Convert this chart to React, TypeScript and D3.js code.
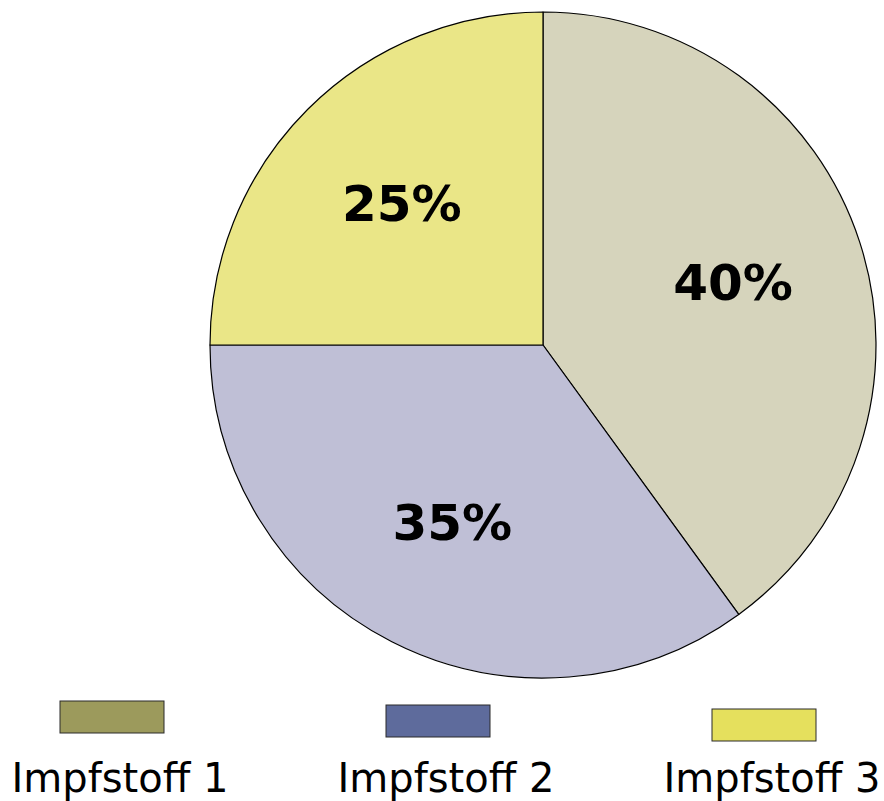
import * as d3 from "d3"

const labels = ["Impfstoff 1", "Impfstoff 2", "Impfstoff 3"]
const values = [40, 35, 25]
const sliceColors = ["#d6d4bc", "#bfbfd6", "#eae687"]
const legendColors = ["#9c9a5c", "#5e6b9c", "#e5e05d"]

const W = 884
const H = 801

export default function App() {
  const cx = 543
  const cy = 345
  const radius = 333

  const pie = d3
    .pie<number>()
    .sort(null)
    .value((d) => d)
  const arcs = pie(values)
  const arc = d3.arc<d3.PieArcDatum<number>>().innerRadius(0).outerRadius(radius)
  const labelArc = d3
    .arc<d3.PieArcDatum<number>>()
    .innerRadius(radius * 0.6)
    .outerRadius(radius * 0.6)

  const legendX = d3.scalePoint<string>().domain(labels).range([120, 772])

  return (
    <svg
      width={W}
      height={H}
      style={{ position: "absolute", left: 0, top: 0, background: "#fff" }}
    >
      <g transform={`translate(${cx},${cy})`}>
        {arcs.map((a, i) => (
          <path
            key={i}
            d={arc(a) ?? ""}
            fill={sliceColors[i]}
            stroke="#000"
            strokeWidth={1.2}
            strokeLinejoin="round"
          />
        ))}
        {arcs.map((a, i) => {
          const [x, y] = labelArc.centroid(a)
          return (
            <text
              key={i}
              x={x}
              y={y}
              textAnchor="middle"
              dominantBaseline="central"
              fontFamily="DejaVu Sans, Verdana, sans-serif"
              fontWeight="bold"
              fontSize={50}
              fill="#000"
            >
              {`${values[i]}%`}
            </text>
          )
        })}
      </g>
      <g>
        {labels.map((l, i) => {
          const x = legendX(l) ?? 0
          return (
            <g key={l}>
              <rect
                x={x - 8 - 52}
                y={701 + i * 4}
                width={104}
                height={32}
                fill={legendColors[i]}
                stroke="#2a2a2a"
                strokeWidth={1}
              />
              <text
                x={x}
                y={792}
                textAnchor="middle"
                fontFamily="DejaVu Sans, Verdana, sans-serif"
                fontSize={40}
                fill="#000"
              >
                {l}
              </text>
            </g>
          )
        })}
      </g>
    </svg>
  )
}
